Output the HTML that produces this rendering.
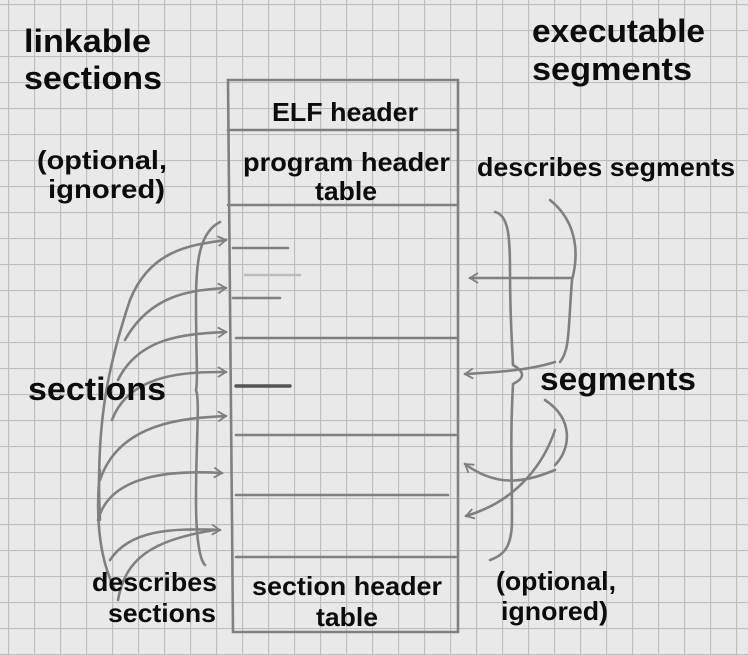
<!DOCTYPE html>
<html><head><style>
html,body{margin:0;padding:0;background:#ececec;}
svg{display:block}
text{font-family:"Liberation Sans",sans-serif;font-weight:bold;fill:#0c0c0c;}
</style></head><body>
<svg width="748" height="655" viewBox="0 0 748 655" xmlns="http://www.w3.org/2000/svg">
<defs>
<pattern id="g" width="26" height="26" patternUnits="userSpaceOnUse" x="8" y="4">
<rect width="26" height="26" fill="#e9e9e9"/>
<path d="M0 0.5H26M0.5 0V26" stroke="#bebebe" stroke-width="1.3"/>
</pattern>
<marker id="a" markerWidth="12" markerHeight="12" refX="9" refY="6" orient="auto" markerUnits="userSpaceOnUse">
<path d="M1 1L9 6L1 11" fill="none" stroke="#7e7e7e" stroke-width="1.8"/>
</marker>
</defs>
<rect width="748" height="655" fill="url(#g)"/>
<g fill="none" stroke="#808080" stroke-width="2.6" stroke-linecap="round">
<path d="M228 80H458V632H233Z"/>
<path d="M228 130H458"/>
<path d="M228 205H458"/>
<path d="M233 248H288"/>
<path d="M245 275H300" stroke="#bbb"/>
<path d="M233 298H280"/>
<path d="M236 338H456"/>
<path d="M236 386H290" stroke="#555" stroke-width="3.4"/>
<path d="M236 435H456"/>
<path d="M236 495H448"/>
<path d="M236 557H456"/>
<path d="M220 222C200 232 196 260 196 300C196 360 198 380 196 390C200 400 196 440 196 500C196 540 200 560 205 565"/>
<path d="M130 300C150 250 190 245 226 240" marker-end="url(#a)"/>
<path d="M125 340C150 295 190 290 226 288" marker-end="url(#a)"/>
<path d="M118 380C140 335 190 334 226 332" marker-end="url(#a)"/>
<path d="M112 420C130 372 190 372 226 372" marker-end="url(#a)"/>
<path d="M100 480C120 420 190 418 226 416" marker-end="url(#a)"/>
<path d="M98 520C110 475 170 470 222 473" marker-end="url(#a)"/>
<path d="M110 560C130 530 170 528 220 530" marker-end="url(#a)"/>
<path d="M100 470C95 520 100 560 115 590"/>
<path d="M118 600C125 560 150 540 215 530"/>
<path d="M130 300C110 360 95 420 100 520"/>
<path d="M495 212C508 215 510 235 510 270C510 320 512 340 513 365C525 372 525 378 513 384C510 440 512 470 512 520C512 545 505 555 490 560"/>
<path d="M550 200C575 220 580 250 572 280C568 330 570 350 560 362"/>
<path d="M545 400C575 420 570 450 555 465"/>
<path d="M572 278H470" marker-end="url(#a)"/>
<path d="M555 362C530 370 500 372 465 374" marker-end="url(#a)"/>
<path d="M555 470C530 480 500 490 465 464" marker-end="url(#a)"/>
<path d="M555 430C545 460 520 500 466 516" marker-end="url(#a)"/>
</g>
<g style="font-size:32px">
<text x="24" y="52" textLength="127" lengthAdjust="spacingAndGlyphs">linkable</text>
<text x="24" y="89" textLength="138" lengthAdjust="spacingAndGlyphs">sections</text>
<text x="532" y="42" textLength="173" lengthAdjust="spacingAndGlyphs">executable</text>
<text x="532" y="80" textLength="160" lengthAdjust="spacingAndGlyphs">segments</text>
<text x="28" y="400" textLength="138" lengthAdjust="spacingAndGlyphs">sections</text>
<text x="540" y="390" textLength="156" lengthAdjust="spacingAndGlyphs">segments</text>
</g>
<g style="font-size:26px">
<text x="272" y="121" textLength="146" lengthAdjust="spacingAndGlyphs">ELF header</text>
<text x="243" y="171" textLength="207" lengthAdjust="spacingAndGlyphs">program header</text>
<text x="315" y="200" textLength="62" lengthAdjust="spacingAndGlyphs">table</text>
<text x="37" y="169" textLength="130" lengthAdjust="spacingAndGlyphs">(optional,</text>
<text x="48" y="198" textLength="117" lengthAdjust="spacingAndGlyphs">ignored)</text>
<text x="477" y="176" textLength="258" lengthAdjust="spacingAndGlyphs">describes segments</text>
<text x="92" y="591" textLength="125" lengthAdjust="spacingAndGlyphs">describes</text>
<text x="108" y="622" textLength="108" lengthAdjust="spacingAndGlyphs">sections</text>
<text x="252" y="595" textLength="190" lengthAdjust="spacingAndGlyphs">section header</text>
<text x="316" y="626" textLength="62" lengthAdjust="spacingAndGlyphs">table</text>
<text x="496" y="590" textLength="120" lengthAdjust="spacingAndGlyphs">(optional,</text>
<text x="501" y="620" textLength="107" lengthAdjust="spacingAndGlyphs">ignored)</text>
</g>
</svg>
</body></html>
